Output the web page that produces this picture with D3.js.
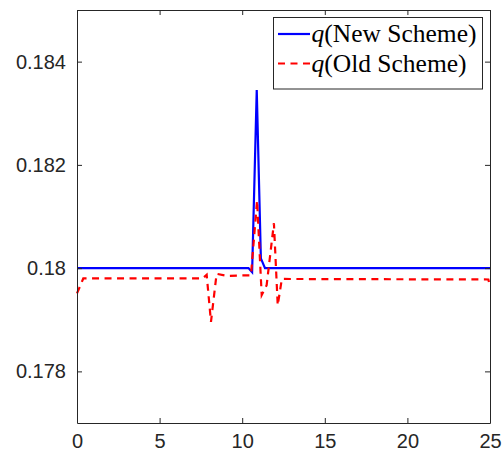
<!DOCTYPE html>
<html>
<head>
<meta charset="utf-8">
<script src="https://cdn.jsdelivr.net/npm/d3@7"></script>
<style>
  body { margin: 0; background: white; }
  svg { display: block; }
</style>
</head>
<body>
<div id="chart"></div>
<script>
"use strict"

// values
const xTicks = [0, 5, 10, 15, 20, 25]
const yTicks = [0.178, 0.18, 0.182, 0.184]
const yTickLabels = ["0.178", "0.18", "0.182", "0.184"]

const newX = [0, 10.38, 10.6, 10.88, 11.13, 11.38, 25]
const newQ = [0.18, 0.18, 0.17992, 0.18345, 0.18019, 0.18, 0.18]

const oldX = [0, 0.38, 7.6, 7.85, 8.11, 8.45, 9.1, 10.0, 10.53, 10.9, 11.18, 11.48, 11.92, 12.15, 12.4, 24.9, 25]
const oldQ = [0.17951, 0.1798, 0.1798, 0.17987, 0.17896, 0.17989, 0.17985, 0.17986, 0.17986, 0.18131, 0.17948, 0.17967, 0.18087, 0.17928, 0.17979, 0.17978, 0.17965]

const seriesNames = ["New Scheme", "Old Scheme"]

function drawChart() {
  const width = 504
  const height = 458
  const margin = ({top: 10, right: 14, bottom: 35, left: 77})
  const ink = "#262626"

  const x = d3.scaleLinear()
    .domain([0, 25])
    .range([margin.left, width - margin.right])

  const y = d3.scaleLinear()
    .domain([0.177, 0.185])
    .range([height - margin.bottom, margin.top])

  const svg = d3.select("#chart").append("svg")
    .attr("width", width)
    .attr("height", height)
    .attr("viewBox", `0,0,${width},${height}`)
    .style("font-family", "'Liberation Sans', Arial, sans-serif")

  const series = [
    {name: seriesNames[0], xs: newX, ys: newQ, color: "#0000ff", dash: null},
    {name: seriesNames[1], xs: oldX, ys: oldQ, color: "#ff0000", dash: "7,5.5"},
  ]

  const line = d3.line()
    .x(d => x(d[0]))
    .y(d => y(d[1]))

  svg.append("g")
    .selectAll("path")
    .data(series)
    .join("path")
      .attr("d", s => line(s.xs.map((v, i) => [v, s.ys[i]])))
      .attr("fill", "none")
      .attr("stroke", s => s.color)
      .attr("stroke-width", 2.2)
      .attr("stroke-dasharray", s => s.dash)

  // axes: ticks inward on all four sides, like a boxed plot
  const styleAxis = g => {
    g.select(".domain").attr("stroke", ink)
    g.selectAll(".tick line").attr("stroke", ink)
    g.selectAll(".tick text").attr("fill", ink).style("font-size", "20px")
  }

  svg.append("g")
    .attr("transform", `translate(0 ${height - margin.bottom})`)
    .call(d3.axisBottom(x).tickValues(xTicks).tickSizeInner(-5).tickSizeOuter(0).tickPadding(11))
    .call(styleAxis)

  svg.append("g")
    .attr("transform", `translate(0 ${margin.top})`)
    .call(d3.axisTop(x).tickValues(xTicks).tickSizeInner(-5).tickSizeOuter(0).tickFormat(""))
    .call(styleAxis)

  svg.append("g")
    .attr("transform", `translate(${margin.left} 0)`)
    .call(d3.axisLeft(y).tickValues(yTicks).tickSizeInner(-5).tickSizeOuter(0).tickPadding(11)
      .tickFormat((d, i) => yTickLabels[i]))
    .call(styleAxis)

  svg.append("g")
    .attr("transform", `translate(${width - margin.right} 0)`)
    .call(d3.axisRight(y).tickValues(yTicks).tickSizeInner(-5).tickSizeOuter(0).tickFormat(""))
    .call(styleAxis)

  // legend
  const legend = svg.append("g")
    .attr("transform", "translate(273.5 17.5)")

  legend.append("rect")
    .attr("width", 209)
    .attr("height", 71.5)
    .attr("fill", "white")
    .attr("stroke", ink)

  const rows = legend.selectAll("g.row")
    .data(series)
    .join("g")
      .attr("class", "row")
      .attr("transform", (d, i) => `translate(0 ${16.5 + i * 29.5})`)

  rows.append("line")
    .attr("x1", 4.5)
    .attr("x2", 36.5)
    .attr("stroke", d => d.color)
    .attr("stroke-width", 2.2)
    .attr("stroke-dasharray", d => d.dash)

  const label = rows.append("text")
    .attr("x", 38)
    .attr("y", 8)
    .attr("fill", "black")
    .style("font-family", "'Liberation Serif', 'Times New Roman', serif")
    .style("font-size", "25.5px")

  label.append("tspan").style("font-style", "italic").text("q")
  label.append("tspan").text(d => `(${d.name})`)
}

drawChart()
</script>
</body>
</html>
